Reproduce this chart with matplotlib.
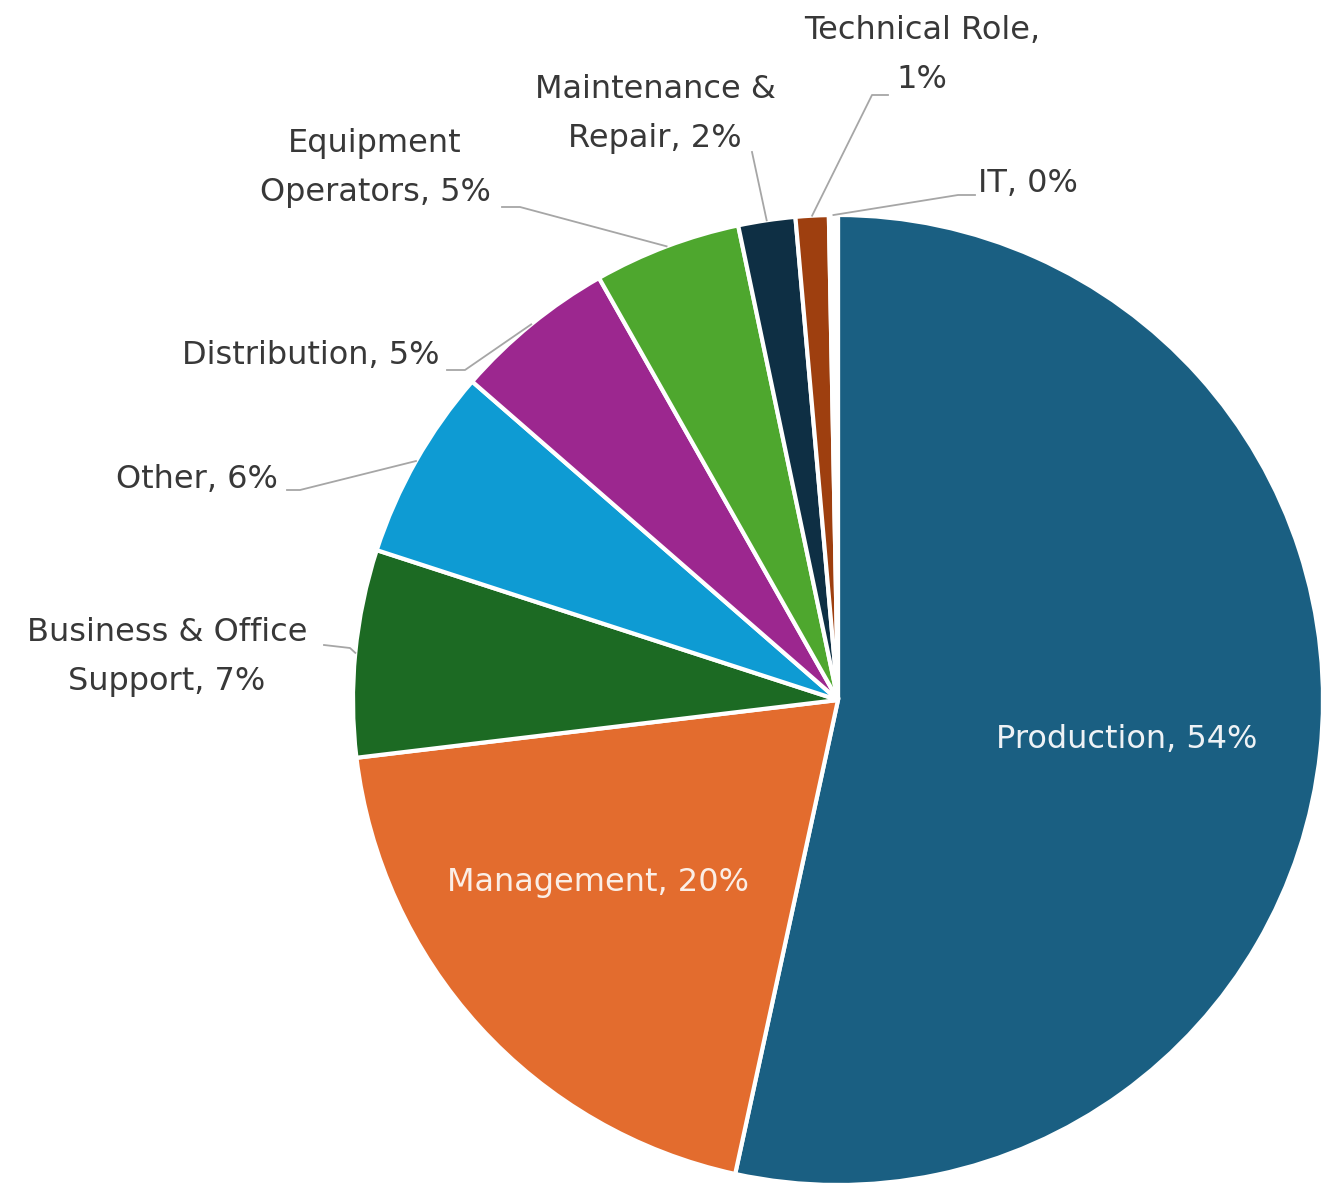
import numpy as np
import matplotlib.pyplot as plt

# share of roles (clockwise from 12 o'clock)
roles = ['Production', 'Management', 'Business & Office Support', 'Other',
         'Distribution', 'Equipment Operators', 'Maintenance & Repair',
         'Technical Role', 'IT']
shares = [53.4, 19.7, 6.9, 6.4, 5.4, 4.9, 1.9, 1.1, 0.3]
label_text = ['Production, 54%', 'Management, 20%', 'Business & Office\nSupport, 7%',
              'Other, 6%', 'Distribution, 5%', 'Equipment\nOperators, 5%',
              'Maintenance &\nRepair, 2%', 'Technical Role,\n1%', 'IT, 0%']
colors = ['#1a5f82', '#e36c2e', '#1c6a23', '#0e9bd3', '#9c278f',
          '#4ea72e', '#0e2f44', '#9e3f0f', '#ffffff']

plt.rcParams['font.family'] = ['DejaVu Sans']

W, H = 1322, 1185
fig = plt.figure(figsize=(W / 100, H / 100), dpi=100)
ax = fig.add_axes([0, 0, 1, 1])

cx, cy, r = 838, 700, 485
# y axis is inverted (pixel-like frame), so start at -90 and go counterclockwise
wedges, _ = ax.pie(shares, colors=colors, startangle=-90, counterclock=True,
                   center=(cx, cy), radius=r, frame=True,
                   wedgeprops=dict(edgecolor='white', linewidth=3))
ax.set_xlim(0, W)
ax.set_ylim(H, 0)
ax.set_aspect('equal')
ax.axis('off')

txt_col = '#383838'
line_col = '#a6a6a6'
fs = 23

# outside labels: (text x, text y, ha, line start, elbow)
outside = {
    2: (167, 657, 'center', (324, 645), (350, 648)),
    3: (278, 480, 'right', (287, 490), (300, 490)),
    4: (440, 356, 'right', (447, 370), (465, 370)),
    5: (375, 168, 'center', (502, 207), (520, 207)),
    6: (655, 114, 'center', (752, 152), (752, 152)),
    7: (922, 55, 'center', (888, 95), (872, 95)),
    8: (978, 183, 'left', (975, 195), (958, 195)),
}

for i, w in enumerate(wedges):
    mid = np.deg2rad((w.theta1 + w.theta2) / 2)
    px = cx + r * np.cos(mid)
    py = cy + r * np.sin(mid)
    if i in outside:
        tx, ty, ha, start, elbow = outside[i]
        ax.text(tx, ty, label_text[i], ha=ha, va='center', fontsize=fs,
                color=txt_col, linespacing=1.75)
        ax.plot([start[0], elbow[0], px], [start[1], elbow[1], py],
                color=line_col, lw=1.3, zorder=1)

ax.text(1127, 740, label_text[0], ha='center', va='center', fontsize=fs, color='#eef2f5')
ax.text(598, 883, label_text[1], ha='center', va='center', fontsize=fs, color='#fbeee6')

fig.savefig('out.png', dpi=100)
